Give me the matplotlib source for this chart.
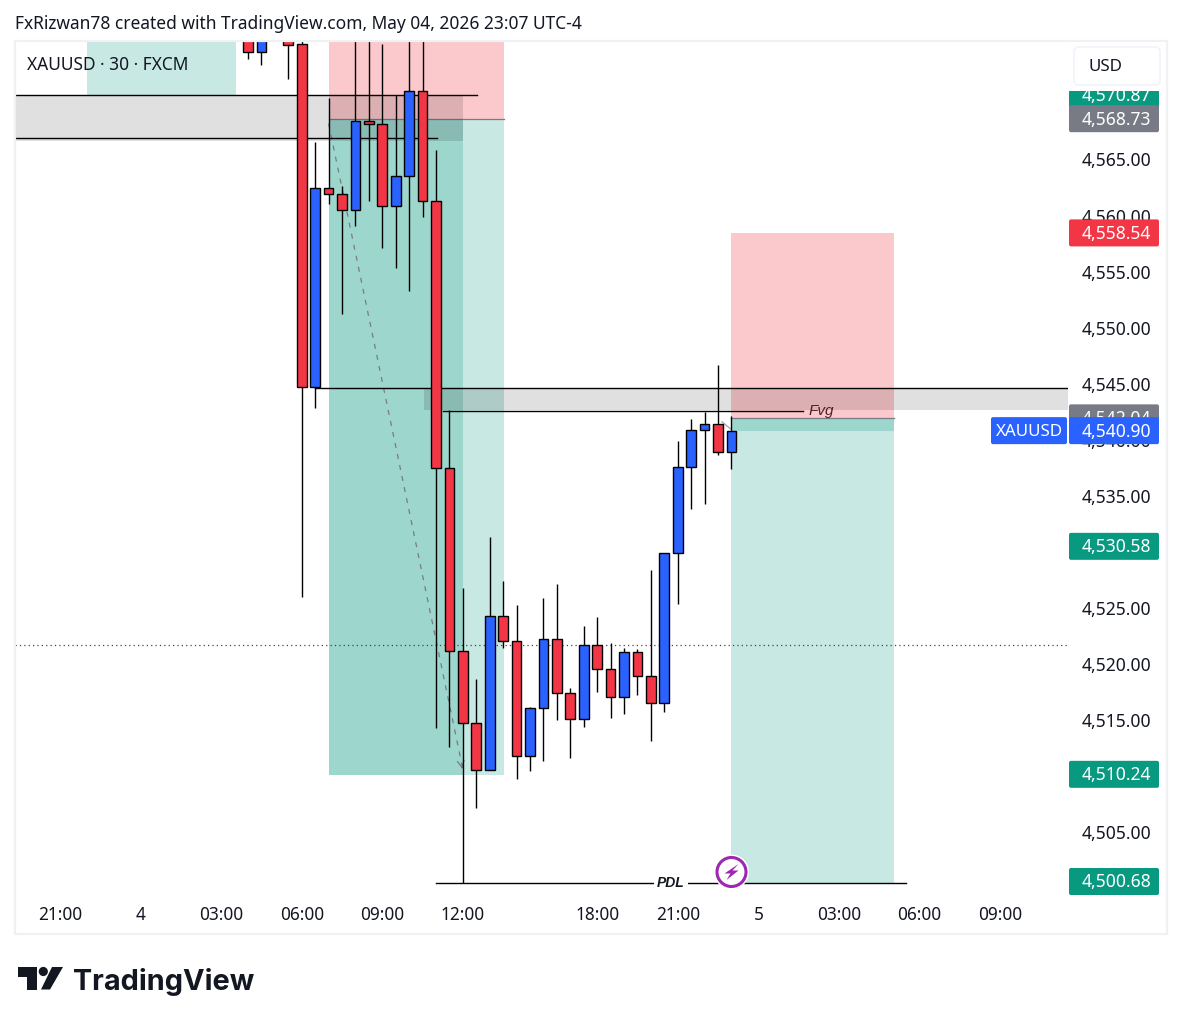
import matplotlib
matplotlib.use("Agg")
import matplotlib.pyplot as plt
from matplotlib.patches import Rectangle, FancyBboxPatch, Polygon, Circle

plt.rcParams['font.family'] = ['Noto Sans', 'DejaVu Sans']

# candles, 30 minute bars, position = bar number counted from the 21:00 label
bars = [14, 15, 17, 18, 19, 20, 21, 22, 23, 24, 25, 26, 27, 28, 29, 30, 31, 32,
        33, 34, 35, 36, 37, 38, 39, 40, 41, 42, 43, 44, 45, 46, 47, 48, 49, 50]
opens = [4576.0, 4574.62, 4576.0, 4575.28, 4544.70, 4562.43, 4561.90, 4560.47, 4568.41,
         4568.14, 4560.83, 4563.50, 4571.09, 4561.27, 4537.45, 4521.11, 4514.71, 4510.51,
         4524.28, 4522.08, 4511.76, 4516.04, 4522.20, 4517.38, 4515.06, 4521.67, 4519.52,
         4517.03, 4521.04, 4518.90, 4516.49, 4529.87, 4537.60, 4540.84, 4541.38, 4538.88]
closes = [4574.62, 4576.0, 4575.24, 4544.70, 4562.43, 4561.90, 4560.47, 4568.41, 4568.14,
          4560.83, 4563.50, 4571.09, 4561.27, 4537.45, 4521.11, 4514.71, 4510.51, 4524.28,
          4522.08, 4511.76, 4516.04, 4522.20, 4517.38, 4515.06, 4521.67, 4519.52, 4517.03,
          4521.04, 4518.90, 4516.49, 4529.87, 4537.60, 4540.84, 4541.38, 4538.88, 4540.76]
highs = [4577, 4577, 4577, 4577, 4566.56, 4570.49, 4562.64, 4577, 4577,
         4575.30, 4570.73, 4577, 4577, 4565.85, 4542.63, 4526.75, 4518.66, 4531.33,
         4527.40, 4525.26, 4516.13, 4525.88, 4527.13, 4517.83, 4523.39, 4524.19, 4521.87,
         4521.40, 4521.31, 4528.38, 4529.87, 4539.89, 4541.85, 4542.50, 4546.67, 4542.12]
lows = [4573.96, 4573.46, 4572.18, 4525.97, 4542.83, 4561.06, 4551.25, 4559.10, 4561.30,
        4557.13, 4555.35, 4553.30, 4559.90, 4514.31, 4512.62, 4500.43, 4507.18, 4510.51,
        4521.45, 4509.77, 4510.48, 4511.37, 4515.03, 4511.64, 4514.40, 4517.53, 4515.21,
        4515.56, 4517.26, 4513.16, 4515.74, 4525.38, 4533.85, 4534.30, 4538.67, 4537.42]

time_ticks = [0, 6, 12, 18, 24, 30, 40, 46, 52, 58, 64, 70]
time_labels = ["21:00", "4", "03:00", "06:00", "09:00", "12:00", "18:00", "21:00", "5", "03:00", "06:00", "09:00"]
# 4,510 and 4,530 sit completely under their price tags in the picture
price_ticks = [4505, 4515, 4520, 4525, 4535, 4540, 4545, 4550, 4555, 4560, 4565]

# tags on the price scale, drawn in this order
tag_prices = [4570.87, 4568.73, 4558.54, 4542.04, 4540.90, 4530.58, 4510.24, 4500.68]
tag_colors = ["#089981", "#787B86", "#F23645", "#787B86", "#2962FF", "#089981", "#089981", "#089981"]

RED = "#F23645"
BLUE = "#2962FF"
TEAL = "#089981"
DARK = "#131722"

fig = plt.figure(figsize=(11.82, 10.24), dpi=100)
W, H = 1182.0, 1024.0

# main pane is x 15..1068, y 41..900 in pixels
ax = fig.add_axes([15 / W, 1 - 900 / H, (1068 - 15) / W, (900 - 41) / H])
ax.set_xlim(-3.351, 75.06)
ax.set_ylim(4498.94, 4575.57)
for s in ax.spines.values():
    s.set_visible(False)

ax.set_xticks(time_ticks)
ax.set_xticklabels(time_labels)
ax.yaxis.tick_right()
ax.set_yticks(price_ticks)
ax.set_yticklabels([f"{p:,.2f}" for p in price_ticks])
ax.tick_params(axis="x", length=0, pad=4, labelsize=12.4, labelcolor=DARK)
ax.tick_params(axis="y", length=0, pad=10, labelsize=12.6, labelcolor=DARK)


def box(x0, x1, y0, y1, color, alpha, z=1):
    ax.add_patch(Rectangle((x0, y0), x1 - x0, y1 - y0, facecolor=color, alpha=alpha, edgecolor="none", zorder=z))


# position tools
box(2, 13.1, 4570.73, 4577, TEAL, 0.22)
box(20, 33.05, 4568.57, 4577, RED, 0.27)
box(20, 33.05, 4510.1, 4568.57, TEAL, 0.22)
box(20, 30, 4510.1, 4568.57, TEAL, 0.22)
box(50, 62.1, 4541.9, 4558.45, RED, 0.27)
box(50, 62.1, 4500.46, 4541.9, TEAL, 0.22)
box(50, 62.1, 4540.78, 4541.9, TEAL, 0.22)
ax.plot([20, 33.05], [4568.57, 4568.57], color="#787B86", lw=0.9, zorder=2)
ax.plot([50, 62.1], [4541.9, 4541.9], color="#787B86", lw=0.9, zorder=2)

# grey zones
box(-3.351, 30, 4566.65, 4570.73, "black", 0.12, z=2)
box(27.1, 75.06, 4542.66, 4544.59, "black", 0.12, z=2)

# current price dotted line
ax.plot([-3.351, 75.06], [4521.65, 4521.65], color="#444444", lw=0.9, ls=(0, (1, 2.5)), zorder=2)

# dashed move arrows
ax.plot([20, 30], [4568.2, 4510.6], color="#787B86", lw=0.9, ls=(0, (4, 5)), zorder=2.5)
ax.annotate("", xy=(30, 4510.4), xytext=(29.9, 4511.0),
            arrowprops=dict(arrowstyle="->", color="#787B86", lw=0.9, mutation_scale=12), zorder=2.5)
ax.plot([49.3, 49.9], [4541.6, 4541.0], color="#A0A3AC", lw=0.9, zorder=2.5)

# horizontal levels
ax.plot([-3.351, 31.05], [4570.73, 4570.73], color="black", lw=1.0, zorder=3)
ax.plot([-3.351, 28.07], [4566.96, 4566.96], color="black", lw=1.0, zorder=3)
ax.plot([19, 75.06], [4544.59, 4544.59], color="black", lw=1.0, zorder=3)
ax.plot([28.5, 55.3], [4542.54, 4542.54], color="black", lw=1.0, zorder=3)
ax.plot([28, 63], [4500.43, 4500.43], color="black", lw=1.0, zorder=3)

# candles
colors = [BLUE if c >= o else RED for o, c in zip(opens, closes)]
ax.vlines(bars, lows, highs, color="black", lw=1.0, zorder=4)
ax.bar(bars, [abs(c - o) for o, c in zip(opens, closes)], bottom=[min(o, c) for o, c in zip(opens, closes)],
       width=0.72, color=colors, edgecolor="black", linewidth=1.0, zorder=5)

ax.text(55.75, 4542.6, "Fvg", family="Liberation Sans", style="italic", fontsize=11, color="#4A2226",
        va="center", ha="left", zorder=6)
ax.text(45.5, 4500.43, "PDL", family="Liberation Sans", style="italic", weight="bold", fontsize=10, color=DARK,
        va="center", ha="center", zorder=6,
        bbox=dict(facecolor="white", edgecolor="none", pad=2.5))

# overlay in pixel coordinates for the chrome around the chart
ov = fig.add_axes([0, 0, 1, 1])
ov.set_xlim(0, W)
ov.set_ylim(H, 0)
ov.axis("off")


def ypx(price):
    return H - ax.transData.transform((0, price))[1]


ov.add_patch(Rectangle((15, 41), 1152, 893, facecolor="none", edgecolor="#F0F1F3", lw=1.6))

# later tags cover the earlier ones, text included
z = 10
for price, col in zip(tag_prices, tag_colors):
    yc = ypx(price) + 1
    ov.add_patch(FancyBboxPatch((1069, yc - 13.5), 90, 27, boxstyle="round,pad=0,rounding_size=2",
                                facecolor=col, edgecolor="none", zorder=z))
    ov.text(1082, yc + 1, f"{price:,.2f}", color="white", fontsize=12.6, va="center", ha="left", zorder=z + 1)
    z += 2

# XAUUSD tag next to last price
yc = ypx(4540.90) + 1
ov.add_patch(FancyBboxPatch((991, yc - 13.5), 76, 27, boxstyle="round,pad=0,rounding_size=2",
                            facecolor=BLUE, edgecolor="none", zorder=z))
ov.text(1030, yc + 1, "XAUUSD", color="white", fontsize=12.2, va="center", ha="center", zorder=z + 1)

# the top of the first tag is hidden under the currency button area
ov.add_patch(Rectangle((1068.5, 42), 97, 49, facecolor="white", edgecolor="none", zorder=z + 2))
ov.add_patch(FancyBboxPatch((1074, 47), 86, 38, boxstyle="round,pad=0,rounding_size=5",
                            facecolor="white", edgecolor="#F0F3FA", lw=1.2, zorder=z + 3))
ov.text(1088, 67, "USD", color=DARK, fontsize=12.2, va="center", ha="left", zorder=z + 4)

ov.text(15, 24, "FxRizwan78 created with TradingView.com, May 04, 2026 23:07 UTC-4", color=DARK,
        fontsize=12.5, va="center", ha="left")
ov.text(27, 65, "XAUUSD \u00b7 30 \u00b7 FXCM", color=DARK, fontsize=12.5, va="center", ha="left")

# lightning marker
ov.add_patch(Circle((731.5, 872), 17.5, facecolor="white", edgecolor="none"))
ov.add_patch(Circle((731.5, 872), 14.5, facecolor="white", edgecolor="#9C27B0", lw=2.2))
ov.add_patch(Polygon([(738.5, 864), (724.5, 873.5), (730.5, 873.5), (726.5, 880), (738.5, 870.5), (732.5, 870.5)],
                     closed=True, facecolor="#9C27B0", edgecolor="none"))

# logo
ov.add_patch(Polygon([(18, 967), (37, 967), (37, 989.5), (27, 989.5), (27, 977), (18, 977)], closed=True,
                     facecolor=DARK, edgecolor="none"))
ov.add_patch(Circle((43.3, 971.5), 4.6, facecolor=DARK, edgecolor="none"))
ov.add_patch(Polygon([(52, 967), (63, 967), (50, 989.5), (41, 989.5)], closed=True, facecolor=DARK, edgecolor="none"))
ov.text(73, 989.5, "TradingView", family="Inter", weight="bold", fontsize=20.8, color=DARK, va="baseline", ha="left")

fig.savefig("out.png", dpi=100)
